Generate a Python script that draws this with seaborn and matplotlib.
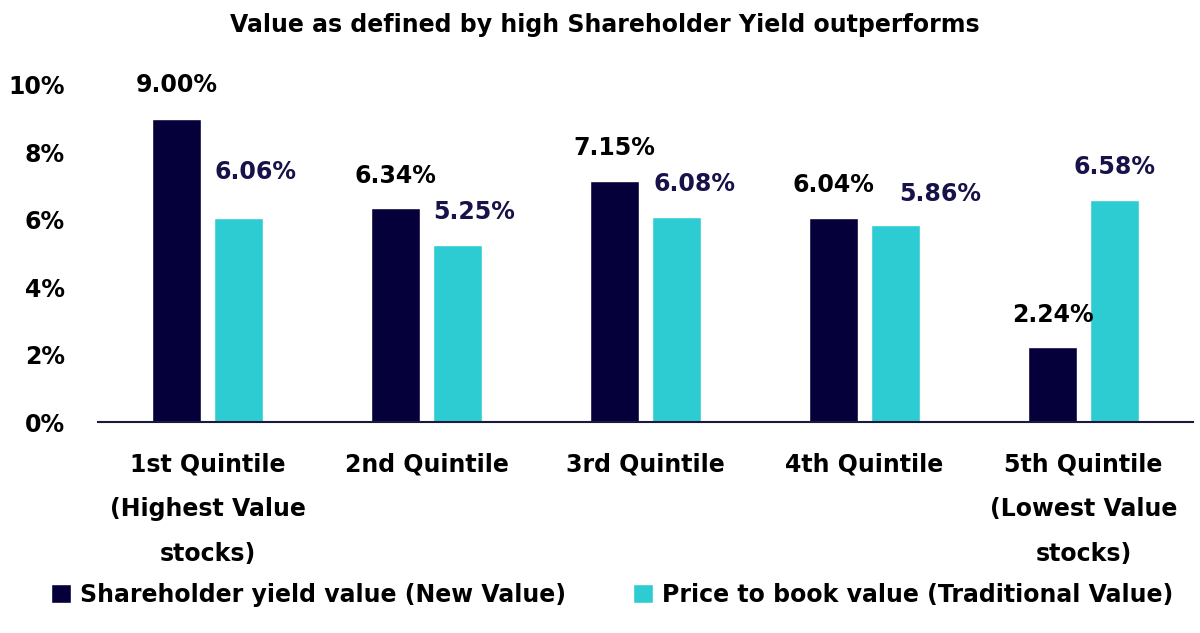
import pandas as pd
import numpy as np
import matplotlib as mpl
from matplotlib import pyplot as plt
from matplotlib.ticker import FuncFormatter
import seaborn as sns

# chart values
quintiles = ["1st Quintile\n(Highest Value\nstocks)", "2nd Quintile", "3rd Quintile",
             "4th Quintile", "5th Quintile\n(Lowest Value\nstocks)"]
series_names = ["Shareholder yield value (New Value)", "Price to book value (Traditional Value)"]
new_value = [9.00, 6.34, 7.15, 6.04, 2.24]
traditional_value = [6.06, 5.25, 6.08, 5.86, 6.58]

title = "Value as defined by high Shareholder Yield outperforms"

navy = "#06003A"
cyan = "#2DCCD3"
label_navy = "#17134A"

sns.set_style("white")
plt.rcParams['font.family'] = ['DejaVu Sans']
plt.rcParams['font.weight'] = 'bold'
plt.rcParams['text.color'] = 'black'

df = pd.DataFrame({
    "quintile": quintiles * 2,
    "series": [series_names[0]] * 5 + [series_names[1]] * 5,
    "value": new_value + traditional_value,
})

fig = plt.figure(figsize=(12, 6.33), dpi=100)
ax = fig.add_axes([98 / 1200, 1 - 422 / 633, (1193 - 98) / 1200, (422 - 85) / 633])

sns.barplot(data=df, x="quintile", y="value", hue="series",
            palette={series_names[0]: navy, series_names[1]: cyan},
            width=0.566, gap=0.208, saturation=1, ax=ax)

ax.set_xlim(-0.5, 4.5)
ax.set_ylim(0, 10)
ax.set_yticks(np.arange(0, 11, 2))
ax.yaxis.set_major_formatter(FuncFormatter(lambda v, p: f"{v:.0f}%"))
ax.tick_params(axis="y", length=0, pad=24, labelsize=17, labelcolor="black")
ax.tick_params(axis="x", length=0, pad=22, labelsize=17, labelcolor="black")
for t in ax.get_xticklabels():
    t.set_linespacing(2.1)
ax.set_xlabel("")
ax.set_ylabel("")
sns.despine(ax=ax, left=True)
ax.spines["bottom"].set_color("#1a1a3a")
ax.spines["bottom"].set_linewidth(1.5)

# data labels (nudges in points, as in the original placement)
new_nudge = [(0, 24), (0, 23), (0, 24), (0, 24), (0, 23)]
trad_nudge = [(12, 33), (12, 24), (13, 24), (32, 22), (0, 24)]
for bar, v, (dx, dy) in zip(ax.containers[0], new_value, new_nudge):
    ax.annotate(f"{v:.2f}%", (bar.get_x() + bar.get_width() / 2, bar.get_height()),
                xytext=(dx, dy), textcoords="offset points", ha="center", va="center",
                fontsize=17, fontweight="bold", color="black")
for bar, v, (dx, dy) in zip(ax.containers[1], traditional_value, trad_nudge):
    ax.annotate(f"{v:.2f}%", (bar.get_x() + bar.get_width() / 2, bar.get_height()),
                xytext=(dx, dy), textcoords="offset points", ha="center", va="center",
                fontsize=17, fontweight="bold", color=label_navy)

handles, labels = ax.get_legend_handles_labels()
ax.get_legend().remove()
fig.legend(handles, labels, loc="center", bbox_to_anchor=(612 / 1200, 1 - 595 / 633),
           ncol=2, frameon=False, fontsize=17, labelcolor="black",
           handlelength=0.85, handleheight=0.85, handletextpad=0.38, columnspacing=2.84,
           borderpad=0, borderaxespad=0)

fig.text(605 / 1200, 1 - 25 / 633, title, ha="center", va="center",
         fontsize=17, fontweight="bold", color="black")

fig.savefig("out.png", dpi=100)
